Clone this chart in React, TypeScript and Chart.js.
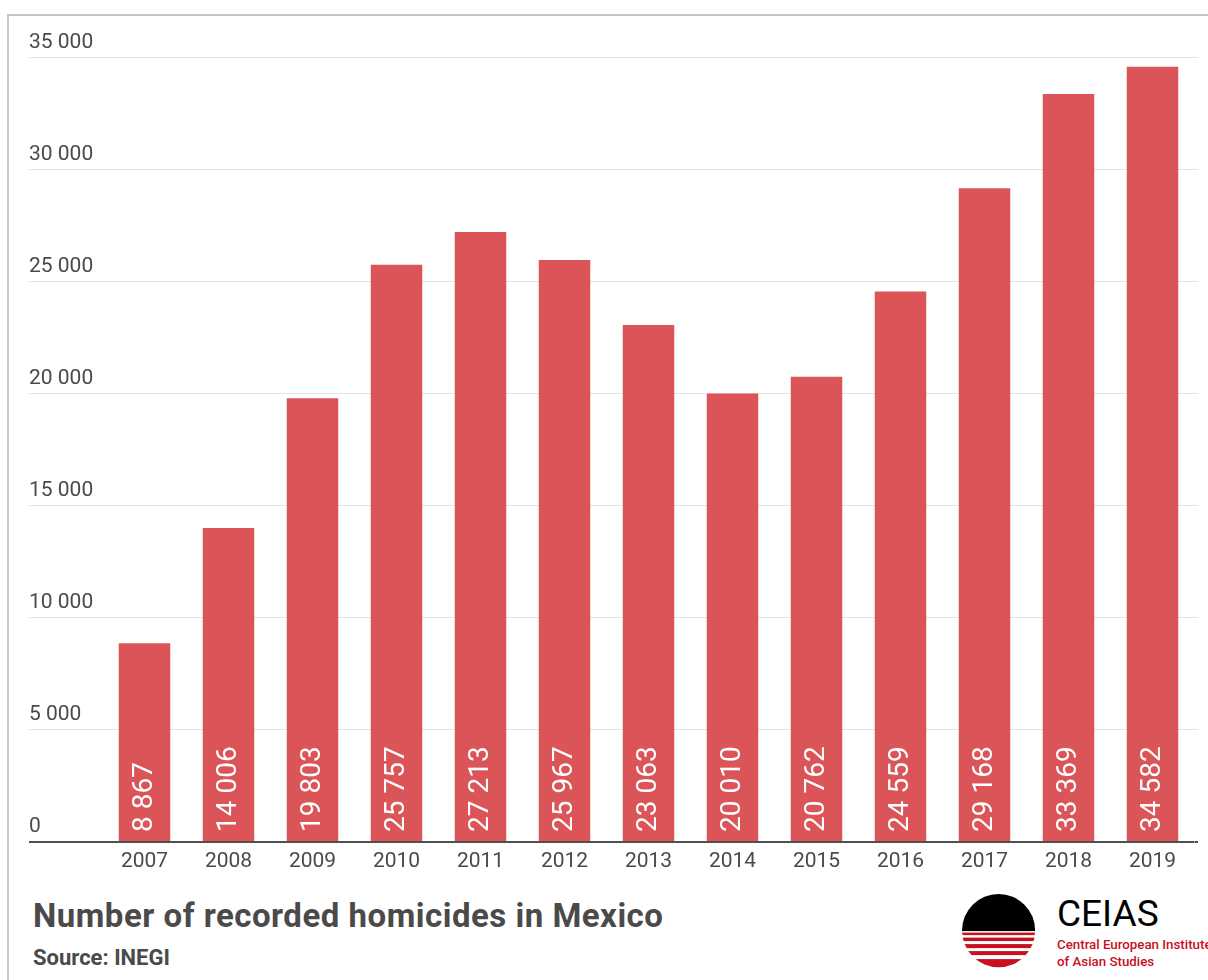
import React, { useEffect, useRef } from "react";
import { Chart, registerables } from "chart.js";

Chart.register(...registerables);

const years = ["2007", "2008", "2009", "2010", "2011", "2012", "2013", "2014", "2015", "2016", "2017", "2018", "2019"];
const homicides = [8867, 14006, 19803, 25757, 27213, 25967, 23063, 20010, 20762, 24559, 29168, 33369, 34582];
const yTicks = [0, 5000, 10000, 15000, 20000, 25000, 30000, 35000];

const fmt = (v: number) => String(v).replace(/\B(?=(\d{3})+(?!\d))/g, " ");

const TEXT = "#4a4a4a";
const BAR = "#db5458";
const GRID = "#e3e3e3";
const AXIS = "#505050";

const barLabelPlugin = {
  id: "barLabels",
  afterDatasetsDraw(chart: any) {
    const ctx = chart.ctx;
    const meta = chart.getDatasetMeta(0);
    const base = chart.scales.y.getPixelForValue(0);
    ctx.save();
    ctx.fillStyle = "#ffffff";
    ctx.font = "28px Roboto";
    ctx.textAlign = "left";
    ctx.textBaseline = "middle";
    meta.data.forEach((bar: any, i: number) => {
      ctx.save();
      ctx.translate(bar.x, base - 10);
      ctx.rotate(-Math.PI / 2);
      ctx.fillText(fmt(homicides[i]), 0, 0);
      ctx.restore();
    });
    ctx.restore();
  },
};

const isZero = (c: any) => c.tick && c.tick.value === 0;

const gridStyle = (len: number, onChart: boolean) => ({
  color: (c: any) => (isZero(c) ? AXIS : GRID),
  lineWidth: (c: any) => (isZero(c) ? 2 : 1),
  tickColor: (c: any) => (isZero(c) ? AXIS : GRID),
  tickWidth: (c: any) => (isZero(c) ? 2 : 1),
  tickLength: len,
  drawTicks: true,
  drawOnChartArea: onChart,
});

function HomicideChart() {
  const ref = useRef<HTMLCanvasElement | null>(null);
  useEffect(() => {
    if (!ref.current) return;
    const chart = new Chart(ref.current, {
      type: "bar",
      data: {
        labels: years,
        datasets: [
          {
            data: homicides,
            backgroundColor: BAR,
            borderWidth: 0,
            categoryPercentage: 1,
            barPercentage: 0.613,
            yAxisID: "y",
          },
        ],
      },
      options: {
        responsive: false,
        animation: false,
        layout: { padding: { left: 29, right: 10, top: 57.5, bottom: 16 } },
        plugins: { legend: { display: false }, tooltip: { enabled: false } },
        scales: {
          x: {
            grid: { display: false, drawTicks: false },
            border: { display: false },
            ticks: { color: TEXT, font: { family: "Roboto", size: 21 }, padding: 7 },
            afterFit: (s: any) => {
              s.height = 30;
            },
          },
          y: {
            position: "left",
            min: 0,
            max: 35000,
            afterBuildTicks: (s: any) => {
              s.ticks = yTicks.map((v) => ({ value: v }));
            },
            grid: gridStyle(73.5, true),
            border: { display: false },
            ticks: {
              color: TEXT,
              font: { family: "Roboto", size: 21 },
              crossAlign: "far",
              padding: 0,
              labelOffset: -15,
              callback: (v: any) => fmt(Number(v)),
            },
            afterFit: (s: any) => {
              s.width = 73.5;
            },
          },
          yr: {
            position: "right",
            min: 0,
            max: 35000,
            afterBuildTicks: (s: any) => {
              s.ticks = yTicks.map((v) => ({ value: v }));
            },
            grid: gridStyle(3.5, false),
            border: { display: false },
            ticks: { display: false },
            afterFit: (s: any) => {
              s.width = 3.5;
            },
          },
        },
      },
      plugins: [barLabelPlugin],
    });
    return () => chart.destroy();
  }, []);
  return (
    <canvas
      ref={ref}
      width={1208}
      height={888}
      style={{ position: "absolute", left: 0, top: 0, width: 1208, height: 888 }}
    />
  );
}

function Logo() {
  const c = 36.6;
  const stripes: [number, number][] = [
    [38.6, 41.1],
    [43.6, 47.1],
    [50.1, 54.1],
    [57.1, 61.1],
    [65.1, 74],
  ];
  return (
    <svg
      width={73.2}
      height={73.2}
      viewBox="0 0 73.2 73.2"
      style={{ position: "absolute", left: 962.4, top: 894.4 }}
    >
      <defs>
        <clipPath id="logoClip">
          <circle cx={c} cy={c} r={c} />
        </clipPath>
      </defs>
      <g clipPath="url(#logoClip)">
        <rect x={0} y={0} width={73.2} height={37.1} fill="#000" />
        {stripes.map(([a, b], i) => (
          <rect key={i} x={0} y={a} width={73.2} height={b - a} fill="#c8101e" />
        ))}
      </g>
    </svg>
  );
}

export default function App() {
  return (
    <div
      style={{
        position: "absolute",
        left: 0,
        top: 0,
        width: 1208,
        height: 980,
        overflow: "hidden",
        background: "#fff",
        fontFamily: "Roboto, sans-serif",
      }}
    >
      <div
        style={{
          position: "absolute",
          left: 7,
          top: 14,
          width: 1300,
          height: 1100,
          borderLeft: "2px solid #c6c6c6",
          borderTop: "2px solid #c6c6c6",
        }}
      />
      <HomicideChart />
      <div
        style={{
          position: "absolute",
          left: 33,
          top: 898.5,
          fontSize: 33,
          lineHeight: "33px",
          letterSpacing: 0.5,
          fontWeight: 700,
          color: TEXT,
          whiteSpace: "nowrap",
        }}
      >
        Number of recorded homicides in Mexico
      </div>
      <div
        style={{
          position: "absolute",
          left: 33,
          top: 947,
          fontSize: 22,
          lineHeight: "22px",
          fontWeight: 700,
          color: TEXT,
          whiteSpace: "nowrap",
        }}
      >
        Source: INEGI
      </div>
      <Logo />
      <div
        style={{
          position: "absolute",
          left: 1057,
          top: 895.3,
          fontSize: 37,
          lineHeight: "37px",
          color: "#000",
          whiteSpace: "nowrap",
        }}
      >
        CEIAS
      </div>
      <div
        style={{
          position: "absolute",
          left: 1057,
          top: 935.6,
          fontSize: 13.3,
          lineHeight: "17px",
          fontWeight: 500,
          color: "#c8101e",
          whiteSpace: "nowrap",
        }}
      >
        Central European Institute
        <br />
        of Asian Studies
      </div>
    </div>
  );
}
